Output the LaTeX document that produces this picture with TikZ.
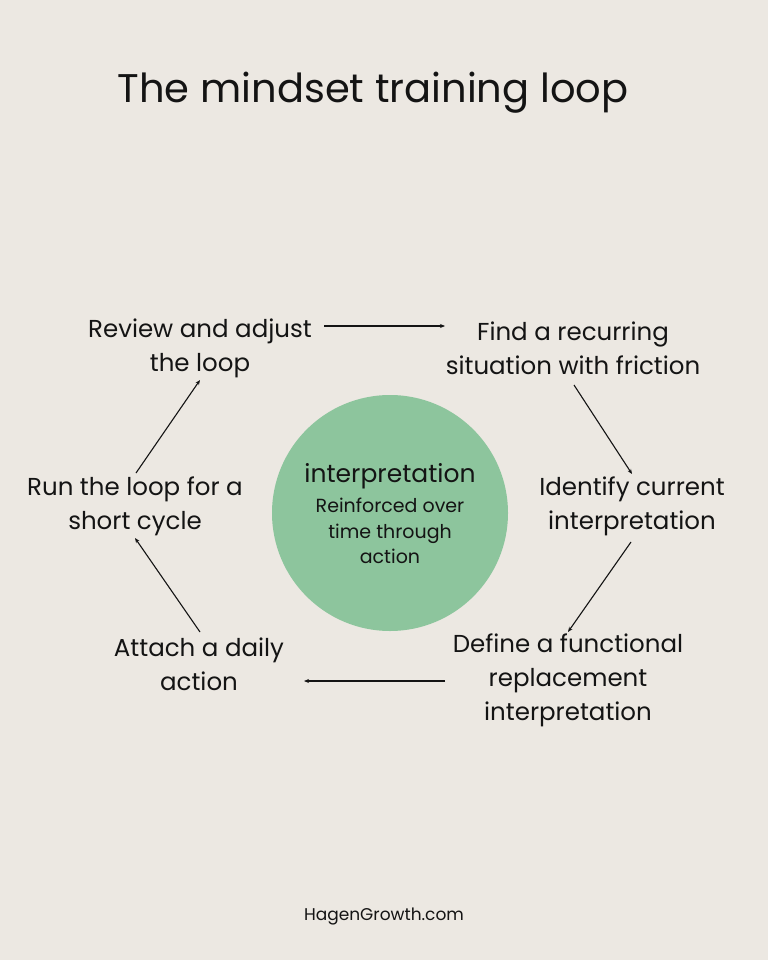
\documentclass[tikz,border=0pt]{standalone}
\usepackage{fontspec}
\setmainfont{Poppins}
\usetikzlibrary{arrows.meta}
\definecolor{bg}{HTML}{ECE8E2}
\definecolor{circ}{HTML}{8DC59D}
\definecolor{ink}{HTML}{141414}
\begin{document}
\begin{tikzpicture}[x=1pt,y=-1pt,
  step box/.style={inner sep=0pt,align=center,text=ink,font=\fontsize{24.5}{34}\selectfont},
  conn/.style={draw=ink,line width=1.1pt,-{Stealth[length=5pt,width=4pt]}}]
\fill[bg] (0,0) rectangle (768,960);
\useasboundingbox (0,0) rectangle (768,960);
\node[text=ink,font=\fontsize{40}{48}\selectfont,anchor=base] (title) at (373,103) {The mindset training loop};
\node[circle,fill=circ,minimum size=236pt,inner sep=0pt] (core) at (390,513) {};
\node[text=ink,inner sep=0pt,font=\fontsize{25}{30}\selectfont,anchor=base] (corehead) at (390,482) {interpretation};
\node[align=center,text=ink,inner sep=0pt,font=\fontsize{19}{25.5}\selectfont] (coresub) at (390,531)
  {Reinforced over\\time through\\action};
\node[step box] (review) at (200,348) {Review and adjust\\the loop};
\node[step box] (find) at (573,348) {Find a recurring\\situation with friction};
\node[step box] (identify) at (632,506) {Identify current\\interpretation};
\node[step box] (define) at (568,680) {Define a functional\\replacement\\interpretation};
\node[step box] (attach) at (199,664) {Attach a daily\\action};
\node[step box] (run) at (135,506) {Run the loop for a\\short cycle};
\node[text=ink,font=\fontsize{17}{20}\selectfont,anchor=base] (footer) at (384,920) {HagenGrowth.com};
\draw[conn] ([xshift=124pt,yshift=22pt]review.center) -- ([xshift=-128pt,yshift=22pt]find.center);
\draw[conn] ([xshift=1pt,yshift=-37pt]find.center) -- ([yshift=32pt]identify.center);
\draw[conn] ([xshift=-1pt,yshift=-36pt]identify.center) -- ([yshift=48pt]define.center);
\draw[conn] ([xshift=-123pt,yshift=-1pt]define.center) -- ([xshift=105pt,yshift=-17pt]attach.center);
\draw[conn] ([xshift=1pt,yshift=32pt]attach.center) -- ([yshift=-32pt]run.center);
\draw[conn] ([xshift=1pt,yshift=33pt]run.center) -- ([yshift=-32pt]review.center);
\end{tikzpicture}
\end{document}
